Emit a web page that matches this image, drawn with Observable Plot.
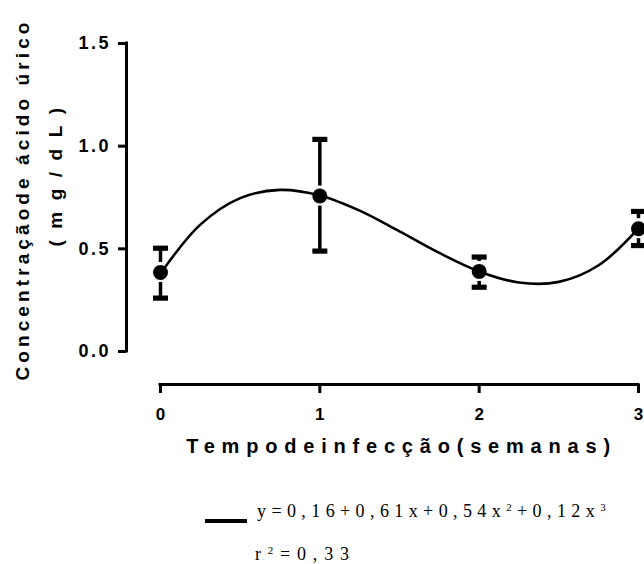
<!DOCTYPE html>
<html>
<head>
<meta charset="utf-8">
<script src="https://cdn.jsdelivr.net/npm/d3@7"></script>
<script src="https://cdn.jsdelivr.net/npm/@observablehq/plot@0.6"></script>
<style>
  html, body { margin: 0; padding: 0; background: #fff; }
  #wrap { position: relative; width: 644px; height: 564px; overflow: hidden; }
  #legend { position: absolute; left: 0; top: 490px; width: 644px; height: 74px;
            font-family: "Liberation Serif", "Times New Roman", serif; font-size: 18px; color: #000; }
  #legend .txt { position: absolute; line-height: 1; white-space: nowrap; }
  #legend sup { font-size: 11px; line-height: 0; vertical-align: 0.55em; }
  #legend .swatch { position: absolute; left: 205px; top: 29px; width: 42px; height: 4px; background: #000; }
</style>
</head>
<body>
<div id="wrap">
  <div id="chart"></div>
  <div id="legend">
    <div class="swatch"></div>
    <div class="txt" id="eq" style="left:257px; top:12px; letter-spacing:5.4px;"></div>
    <div class="txt" id="r2" style="left:255px; top:55px; letter-spacing:6.8px;"></div>
  </div>
</div>
<script>
// ---- data ----
const weeks = [0, 1, 2, 3];
const means = [0.385, 0.757, 0.39, 0.598];
const upper = [0.503, 1.033, 0.46, 0.682];
const lower = [0.26, 0.489, 0.313, 0.516];

// fitted curve
const fitX = [0, 0.25, 0.5, 0.75, 1, 1.25, 1.5, 1.75, 2, 2.25, 2.5, 2.75, 3];
const fitY = [0.38, 0.618, 0.747, 0.787, 0.76, 0.686, 0.585, 0.48, 0.39, 0.336, 0.339, 0.42, 0.60];

const xTicks = [0, 1, 2, 3];
const yTicks = [0, 0.5, 1.0, 1.5];

const yTitle1 = "Concentraçãode ácido úrico";
const yTitle2 = "(mg/dL)";
const xTitle = "Tempodeinfecção(semanas)";
const eqHTML = "y=0,16+0,61x+0,54x<sup>2</sup>+0,12x<sup>3</sup>";
const r2HTML = "r<sup>2</sup>=0,33";

const data = weeks.map((w, i) => ({week: w, mean: means[i], hi: upper[i], lo: lower[i]}));
const fit = fitX.map((x, i) => ({x, y: fitY[i]}));

const capSymbol = {
  draw(ctx, size) {
    const r = Math.sqrt(size / Math.PI);
    ctx.moveTo(-r, -2.6); ctx.lineTo(r, -2.6); ctx.lineTo(r, 2.6); ctx.lineTo(-r, 2.6); ctx.closePath();
  }
};

const svg = Plot.plot({
  width: 644,
  height: 490,
  marginLeft: 160,
  marginRight: 6,
  marginTop: 43,
  marginBottom: 139,
  x: {domain: [xTicks[0], xTicks[xTicks.length - 1]]},
  y: {domain: [yTicks[0], yTicks[yTicks.length - 1]]},
  style: {fontFamily: "'Liberation Sans', Arial, sans-serif", fontSize: "18px", fontWeight: "bold", color: "#000", background: "#fff", overflow: "visible"},
  marks: [
    // axis lines (offset from the data area)
    Plot.ruleX([xTicks[0]], {y1: yTicks[0], y2: yTicks[yTicks.length - 1], dx: -34, stroke: "#000", strokeWidth: 3, strokeLinecap: "square"}),
    Plot.ruleY([yTicks[0]], {x1: xTicks[0], x2: xTicks[xTicks.length - 1], dy: 33, stroke: "#000", strokeWidth: 3, strokeLinecap: "square"}),
    Plot.axisY(yTicks, {anchor: "left", tickSize: 8, tickPadding: 7.5, dx: -34, strokeWidth: 3, tickFormat: d3.format(".1f"), label: null, fill: "#000", fontSize: 18}),
    Plot.axisX(xTicks, {anchor: "bottom", tickSize: 9, tickPadding: 14, dy: 33, strokeWidth: 3, tickFormat: d3.format("d"), label: null, fill: "#000", fontSize: 17}),
    // titles
    Plot.text([yTitle1], {frameAnchor: "left", textAnchor: "middle", rotate: -90, dx: -138, dy: 2, fontSize: 19, fontWeight: "bold", fill: "#000"}),
    Plot.text([yTitle2], {frameAnchor: "left", textAnchor: "middle", rotate: -90, dx: -105, dy: -26, fontSize: 19, fontWeight: "bold", fill: "#000"}),
    Plot.text([xTitle], {frameAnchor: "bottom", dx: 2, dy: 101, fontSize: 20, fontWeight: "bold", fill: "#000"}),
    // fitted curve
    Plot.line(fit, {x: "x", y: "y", curve: "catmull-rom", stroke: "#000", strokeWidth: 2.6}),
    // error bars
    Plot.ruleX(data, {x: "week", y1: "hi", y2: "mean", insetBottom: 10, stroke: "#000", strokeWidth: 3.5}),
    Plot.ruleX(data, {x: "week", y1: "mean", y2: "lo", insetTop: 10, stroke: "#000", strokeWidth: 3.5}),
    Plot.dot(data, {x: "week", y: "hi", symbol: capSymbol, r: 7.5, fill: "#000", stroke: null}),
    Plot.dot(data, {x: "week", y: "lo", symbol: capSymbol, r: 7.5, fill: "#000", stroke: null}),
    // means
    Plot.dot(data, {x: "week", y: "mean", r: 7.5, fill: "#000", stroke: null})
  ]
});

// letter spacing like the reference
const s = d3.select(svg);
s.selectAll('g[aria-label="y-axis tick label"] text').style("letter-spacing", "2.5px");
s.selectAll('g[aria-label="text"] text').each(function() {
  const t = this.textContent;
  if (t === xTitle) d3.select(this).style("letter-spacing", "6.8px");
  else if (t === yTitle1) d3.select(this).style("letter-spacing", "4.1px");
  else if (t === yTitle2) d3.select(this).style("letter-spacing", "11.5px");
});

document.getElementById("chart").appendChild(svg);
document.getElementById("eq").innerHTML = eqHTML;
document.getElementById("r2").innerHTML = r2HTML;
</script>
</body>
</html>
